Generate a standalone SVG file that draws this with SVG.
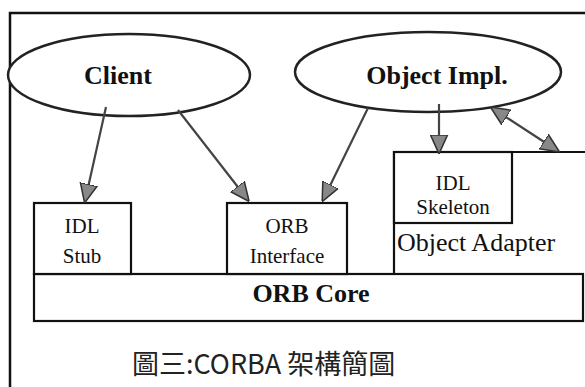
<svg xmlns="http://www.w3.org/2000/svg" width="585" height="387" viewBox="0 0 585 387">
<style>
.bg{fill:#fff}
.frame{fill:none;stroke:#111;stroke-width:2.5}
.ell{fill:#fff;stroke:#222;stroke-width:2.5}
.box{fill:#fff;stroke:#111;stroke-width:2.2}
.line{fill:none;stroke:#111;stroke-width:2.2}
.conn{fill:none;stroke:#444;stroke-width:2.2}
.tb{font-family:"Liberation Serif","Times New Roman",serif;font-weight:bold;font-size:26px;fill:#111;text-anchor:middle}
.t{font-family:"Liberation Serif","Times New Roman",serif;font-size:21px;fill:#111;text-anchor:middle}
.ta{font-family:"Liberation Serif","Times New Roman",serif;font-size:26px;fill:#111}
.cap{font-family:"Noto Sans CJK TC","Noto Sans",sans-serif;font-size:27px;fill:#222}
</style>
<defs>
<marker id="ah2" viewBox="0 0 10 10" refX="9" refY="5" markerWidth="19" markerHeight="19" markerUnits="userSpaceOnUse" orient="auto-start-reverse">
<path d="M0,0.5 L10,5 L0,9.5 Z" fill="#888" stroke="#333" stroke-width="0.8"/>
</marker>
</defs>
<rect class="bg" x="0" y="0" width="585" height="387"/>
<path class="frame" d="M10,387 V13 H585"/>
<g id="client">
<ellipse class="ell" cx="129" cy="75" rx="121" ry="41"/>
<text class="tb" x="118" y="84">Client</text>
</g>
<g id="object-impl">
<ellipse class="ell" cx="428" cy="72" rx="133" ry="40"/>
<text class="tb" x="437" y="84">Object Impl.</text>
</g>
<g id="object-adapter">
<path class="line" d="M394,273 V152 H585"/>
<text class="ta" x="397" y="251">Object Adapter</text>
</g>
<g id="orb-core">
<rect class="box" x="34" y="274" width="549" height="47"/>
<text class="tb" x="311" y="302">ORB Core</text>
</g>
<g id="idl-stub">
<rect class="box" x="34" y="203" width="97" height="71"/>
<text class="t" x="82" y="233">IDL</text>
<text class="t" x="82" y="263">Stub</text>
</g>
<g id="orb-interface">
<rect class="box" x="227" y="203" width="120" height="71"/>
<text class="t" x="287" y="233">ORB</text>
<text class="t" x="287" y="263">Interface</text>
</g>
<g id="idl-skeleton">
<rect class="box" x="394" y="152" width="118" height="71"/>
<text class="t" x="453" y="190">IDL</text>
<text class="t" x="453" y="214">Skeleton</text>
</g>
<g id="connectors">
<line class="conn" x1="106" y1="107" x2="85" y2="201" marker-end="url(#ah2)"/>
<line class="conn" x1="178" y1="110" x2="248" y2="200" marker-end="url(#ah2)"/>
<line class="conn" x1="368" y1="108" x2="323" y2="200" marker-end="url(#ah2)"/>
<line class="conn" x1="439" y1="104" x2="439" y2="152" marker-end="url(#ah2)"/>
<line class="conn" x1="492" y1="108" x2="558" y2="151" marker-start="url(#ah2)" marker-end="url(#ah2)"/>
</g>
<text class="cap" x="132" y="374">圖三:CORBA 架構簡圖</text>
</svg>
